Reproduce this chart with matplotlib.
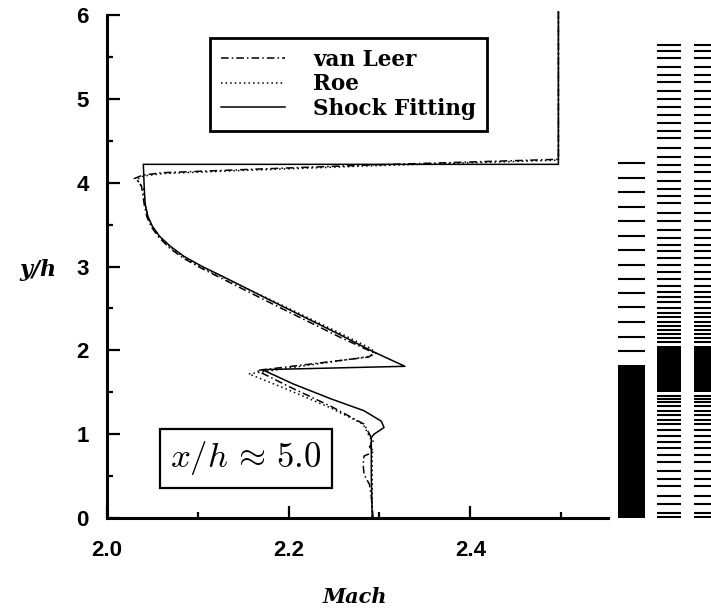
import matplotlib
matplotlib.use('Agg')
import matplotlib.pyplot as plt

plt.rcParams['mathtext.fontset'] = 'cm'

# Perfiles de Mach en x/h ~ 5.0
sf_mach = [2.497, 2.497, 2.040, 2.041, 2.042, 2.045, 2.050, 2.058, 2.070, 2.085, 2.105,
           2.126, 2.183, 2.256, 2.292, 2.328, 2.171, 2.205, 2.247, 2.283, 2.302, 2.305,
           2.294, 2.291, 2.291, 2.292]
sf_y = [6.04, 4.22, 4.22, 3.94, 3.75, 3.60, 3.48, 3.36, 3.24, 3.12, 3.00,
        2.89, 2.58, 2.19, 1.99, 1.81, 1.77, 1.60, 1.42, 1.28, 1.155, 1.08,
        1.00, 0.96, 0.50, 0.0]

vl_mach = [2.497, 2.497, 2.284, 2.157, 2.061, 2.039, 2.030, 2.034, 2.038, 2.041, 2.044,
           2.049, 2.057, 2.069, 2.084, 2.104, 2.126, 2.183, 2.256, 2.290, 2.294, 2.288,
           2.165, 2.200, 2.247, 2.283, 2.289, 2.293, 2.289, 2.294, 2.283, 2.282, 2.283,
           2.289, 2.291, 2.293]
vl_y = [6.04, 4.28, 4.21, 4.16, 4.12, 4.09, 4.05, 4.02, 3.96, 3.74, 3.59,
        3.47, 3.35, 3.22, 3.10, 2.98, 2.86, 2.55, 2.16, 1.99, 1.97, 1.92,
        1.76, 1.57, 1.33, 1.12, 1.00, 0.91, 0.85, 0.79, 0.74, 0.64, 0.52,
        0.40, 0.25, 0.0]

roe_mach = [2.497, 2.497, 2.284, 2.157, 2.061, 2.040, 2.033, 2.036, 2.040, 2.042, 2.045,
            2.050, 2.058, 2.070, 2.085, 2.105, 2.126, 2.181, 2.254, 2.289, 2.296, 2.290,
            2.156, 2.195, 2.245, 2.282, 2.290, 2.292, 2.292, 2.292]
roe_y = [6.04, 4.27, 4.20, 4.15, 4.11, 4.08, 4.04, 3.99, 3.93, 3.74, 3.59,
         3.47, 3.35, 3.23, 3.11, 2.99, 2.88, 2.60, 2.22, 2.03, 1.97, 1.93,
         1.72, 1.55, 1.32, 1.12, 0.95, 0.70, 0.30, 0.0]

# Mallas (posiciones y de las lineas)
mesh1_lines = [4.24, 4.06, 3.89, 3.71, 3.54, 3.36, 3.20, 3.02, 2.85, 2.68, 2.52, 2.34, 2.16, 1.99]
mesh1_block = [0.0, 1.83]
mesh2_lines = [5.64, 5.57, 5.49, 5.38, 5.29, 5.20, 5.10, 5.00, 4.90, 4.81, 4.71, 4.62, 4.53,
               4.42, 4.31, 4.21, 4.13, 4.02, 3.93, 3.84, 3.76, 3.64, 3.54, 3.44, 3.34, 3.26,
               3.19, 3.10, 3.02, 2.94, 2.85, 2.77, 2.70, 2.64, 2.58, 2.51, 2.45, 2.40, 2.34,
               2.29, 2.24, 2.20, 2.15, 2.10,
               1.46, 1.42, 1.38, 1.34, 1.28, 1.23, 1.17, 1.12, 1.05, 0.98, 0.91, 0.84, 0.75,
               0.67, 0.56, 0.47, 0.38, 0.26, 0.17, 0.06, 0.01]
mesh2_block = [1.50, 2.05]
mesh_cols = [(2.563, 2.592), (2.605, 2.632), (2.646, 2.68)]

# Crea el canvas
fig = plt.figure(figsize=(7.11, 6.11), dpi=100)
ax = fig.add_axes([0.1505, 0.1522, 0.8495, 0.8367])

ax.plot(vl_mach, vl_y, color='black', lw=1.1, dashes=[5, 2, 1, 2], label='van Leer')
ax.plot(roe_mach, roe_y, color='black', lw=1.1, dashes=[1, 2], label='Roe')
ax.plot(sf_mach, sf_y, color='black', lw=1.1, ls='-', label='Shock Fitting')

# Mallas a la derecha
x0, x1 = mesh_cols[0]
ax.hlines(mesh1_lines, x0, x1, color='black', lw=1.5)
ax.fill_between([x0, x1], mesh1_block[0], mesh1_block[1], color='black', lw=0)
for x0, x1 in mesh_cols[1:]:
    ax.hlines(mesh2_lines, x0, x1, color='black', lw=1.5)
    ax.fill_between([x0, x1], mesh2_block[0], mesh2_block[1], color='black', lw=0)

# Ejes
ax.set_xlim(2.0, 2.665)
ax.set_ylim(0, 6.1)
for s in ['top', 'right']:
    ax.spines[s].set_visible(False)
ax.spines['left'].set_bounds(0, 6)
ax.spines['bottom'].set_bounds(2.0, 2.552)
ax.spines['left'].set_linewidth(2.2)
ax.spines['bottom'].set_linewidth(2.2)

ax.set_xticks([2.0, 2.2, 2.4])
ax.set_xticks([2.1, 2.3, 2.5], minor=True)
ax.set_yticks([0, 1, 2, 3, 4, 5, 6])
ax.set_yticks([0.5, 1.5, 2.5, 3.5, 4.5, 5.5], minor=True)
ax.set_xticklabels(['2.0', '2.2', '2.4'], fontweight='bold', family='Liberation Sans', size=16)
ax.set_yticklabels(['0', '1', '2', '3', '4', '5', '6'], fontweight='bold', family='Liberation Sans', size=16)
ax.tick_params(which='major', direction='in', length=9, width=1.6)
ax.tick_params(which='minor', direction='in', length=4.5, width=1.6)
ax.tick_params(axis='x', which='both', pad=16)
ax.tick_params(axis='y', which='both', pad=13)

ax.set_ylabel('y/h', rotation=0, ha='center', va='center', fontsize=16,
              style='italic', weight='bold', family='DejaVu Serif')
ax.yaxis.set_label_coords(-0.114, 0.485)
ax.set_xlabel('Mach', ha='center', va='center', fontsize=15,
              style='italic', weight='bold', family='DejaVu Serif')
ax.xaxis.set_label_coords(0.41, -0.155)

# Leyenda
leg = ax.legend(loc='upper left', bbox_to_anchor=(0.1705, 0.939), borderaxespad=0,
                fancybox=False, edgecolor='black', framealpha=1,
                prop=dict(family='DejaVu Serif', weight='bold', size=15.5),
                handlelength=3.0, handletextpad=1.3, borderpad=0.5, labelspacing=0.12)
leg.get_frame().set_linewidth(2)

ax.text(0.23, 0.117, r'$x/h\,\approx\,5.0$', transform=ax.transAxes, fontsize=25,
        ha='center', va='center',
        bbox=dict(boxstyle='square,pad=0.3', fc='white', ec='black', lw=1.6))

fig.savefig('out.png', dpi=100)
